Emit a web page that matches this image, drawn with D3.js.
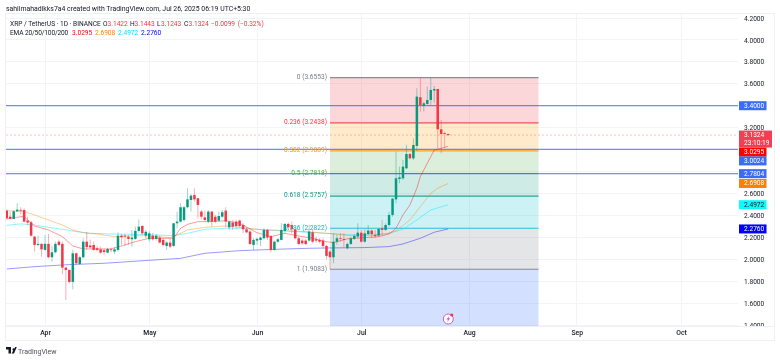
<!DOCTYPE html>
<html>
<head>
<meta charset="utf-8">
<script src="https://cdn.jsdelivr.net/npm/d3@7"></script>
<style>
    html, body { margin: 0; padding: 0; background: #fff; overflow: hidden; }
    svg { display: block; font-family: Roboto, sans-serif; filter: blur(0.3px); }
</style>
</head>
<body>
<div id="chart"></div>
<script>
const width = 780;
const height = 360;

// daily candles, first one is 21 Mar 2025, last one 26 Jul 2025
const firstDay = new Date(Date.UTC(2025, 2, 21));
const opens = [
    2.443, 2.388, 2.367, 2.437, 2.450, 2.449, 2.352, 2.337, 2.206, 2.130,
    2.140, 2.085, 2.140, 2.018, 2.063, 2.160, 2.140, 1.923, 1.902, 1.793,
    2.054, 1.957, 2.018, 2.160, 2.125, 2.130, 2.100, 2.090, 2.082, 2.060,
    2.090, 2.070, 2.085, 2.215, 2.215, 2.206, 2.182, 2.185, 2.258, 2.303,
    2.215, 2.182, 2.215, 2.185, 2.197, 2.176, 2.121, 2.152, 2.121, 2.328,
    2.343, 2.358, 2.474, 2.540, 2.586, 2.556, 2.434, 2.382, 2.343, 2.434,
    2.388, 2.352, 2.388, 2.443, 2.291, 2.334, 2.343, 2.352, 2.312, 2.273,
    2.252, 2.130, 2.170, 2.176, 2.191, 2.267, 2.212, 2.084, 2.160, 2.176,
    2.258, 2.322, 2.312, 2.273, 2.191, 2.170, 2.170, 2.170, 2.245, 2.182,
    2.176, 2.170, 2.121, 2.069, 2.018, 2.160, 2.194, 2.185, 2.100, 2.139,
    2.185, 2.206, 2.242, 2.160, 2.230, 2.261, 2.221, 2.215, 2.282, 2.267,
    2.312, 2.404, 2.546, 2.732, 2.738, 2.829, 2.960, 2.920, 3.033, 3.477,
    3.398, 3.416, 3.452, 3.538, 3.553, 3.185, 3.150, 3.1422
];
const highs = [
    2.455, 2.434, 2.449, 2.510, 2.474, 2.464, 2.388, 2.352, 2.212, 2.215,
    2.145, 2.220, 2.230, 2.120, 2.160, 2.180, 2.160, 1.932, 1.908, 2.085,
    2.060, 2.030, 2.190, 2.250, 2.180, 2.160, 2.120, 2.115, 2.096, 2.105,
    2.105, 2.110, 2.243, 2.230, 2.230, 2.220, 2.267, 2.297, 2.364, 2.312,
    2.267, 2.258, 2.240, 2.230, 2.215, 2.190, 2.165, 2.190, 2.328, 2.434,
    2.510, 2.486, 2.647, 2.595, 2.647, 2.556, 2.449, 2.443, 2.449, 2.443,
    2.404, 2.434, 2.449, 2.474, 2.352, 2.358, 2.358, 2.364, 2.328, 2.291,
    2.267, 2.191, 2.197, 2.206, 2.282, 2.276, 2.221, 2.170, 2.191, 2.328,
    2.328, 2.334, 2.343, 2.282, 2.206, 2.191, 2.182, 2.312, 2.267, 2.206,
    2.191, 2.191, 2.130, 2.084, 2.236, 2.221, 2.236, 2.236, 2.151, 2.206,
    2.230, 2.328, 2.267, 2.273, 2.312, 2.273, 2.267, 2.282, 2.358, 2.328,
    2.434, 2.556, 2.981, 2.844, 2.905, 3.042, 2.966, 3.103, 3.559, 3.655,
    3.437, 3.574, 3.655, 3.580, 3.553, 3.270, 3.164, 3.1443
];
const lows = [
    2.364, 2.364, 2.364, 2.434, 2.410, 2.337, 2.312, 2.206, 2.070, 2.115,
    2.024, 2.078, 2.008, 1.978, 2.054, 2.120, 1.862, 1.628, 1.780, 1.726,
    1.948, 1.948, 2.008, 2.085, 2.100, 2.078, 2.070, 2.048, 2.040, 2.054,
    2.063, 2.050, 2.070, 2.130, 2.120, 2.130, 2.115, 2.176, 2.242, 2.221,
    2.190, 2.160, 2.170, 2.170, 2.145, 2.115, 2.084, 2.100, 2.110, 2.282,
    2.334, 2.343, 2.464, 2.434, 2.525, 2.373, 2.364, 2.343, 2.328, 2.297,
    2.328, 2.343, 2.373, 2.291, 2.267, 2.267, 2.282, 2.291, 2.236, 2.236,
    2.130, 2.084, 2.130, 2.121, 2.182, 2.176, 2.063, 2.078, 2.151, 2.170,
    2.236, 2.267, 2.236, 2.182, 2.130, 2.130, 2.127, 2.160, 2.145, 2.151,
    2.145, 2.100, 1.999, 1.9083, 1.963, 2.130, 2.160, 2.109, 2.090, 2.130,
    2.176, 2.191, 2.151, 2.151, 2.221, 2.191, 2.191, 2.206, 2.221, 2.258,
    2.297, 2.388, 2.510, 2.692, 2.723, 2.823, 2.911, 2.905, 2.987, 3.346,
    3.346, 3.407, 3.407, 3.428, 3.012, 2.966, 3.012, 3.1243
];
const closes = [
    2.373, 2.370, 2.437, 2.452, 2.445, 2.343, 2.334, 2.215, 2.130, 2.140,
    2.090, 2.140, 2.018, 2.063, 2.140, 2.130, 1.923, 1.902, 1.793, 2.054,
    1.963, 2.018, 2.160, 2.110, 2.108, 2.085, 2.085, 2.060, 2.065, 2.093,
    2.085, 2.090, 2.215, 2.200, 2.206, 2.185, 2.197, 2.258, 2.297, 2.236,
    2.250, 2.236, 2.182, 2.215, 2.152, 2.130, 2.152, 2.115, 2.328, 2.343,
    2.474, 2.474, 2.546, 2.580, 2.546, 2.495, 2.388, 2.358, 2.434, 2.343,
    2.343, 2.394, 2.428, 2.343, 2.343, 2.297, 2.303, 2.303, 2.273, 2.245,
    2.139, 2.176, 2.185, 2.197, 2.267, 2.197, 2.084, 2.160, 2.182, 2.267,
    2.322, 2.291, 2.273, 2.191, 2.139, 2.145, 2.139, 2.252, 2.160, 2.170,
    2.160, 2.121, 2.030, 2.018, 2.160, 2.191, 2.188, 2.176, 2.139, 2.191,
    2.212, 2.242, 2.160, 2.236, 2.261, 2.230, 2.212, 2.276, 2.267, 2.312,
    2.404, 2.553, 2.738, 2.747, 2.844, 2.960, 2.920, 3.042, 3.483, 3.407,
    3.422, 3.452, 3.544, 3.553, 3.185, 3.142, 3.1422, 3.1324
];

const ema20Days = [0, 4, 5, 8, 12, 16, 19, 22, 26, 30, 33, 37, 41, 44, 48, 50, 52, 55, 59, 63, 67, 72, 76, 80, 84, 88, 92, 94, 98, 103, 107, 110, 112, 114, 116, 118, 119, 120, 122, 123, 125, 127];
const ema20Values = [2.367, 2.388, 2.388, 2.303, 2.267, 2.206, 2.121, 2.094, 2.094, 2.094, 2.121, 2.160, 2.191, 2.191, 2.191, 2.282, 2.318, 2.343, 2.343, 2.352, 2.328, 2.242, 2.206, 2.236, 2.212, 2.191, 2.160, 2.151, 2.186, 2.197, 2.206, 2.230, 2.282, 2.404, 2.495, 2.647, 2.753, 2.814, 2.936, 2.996, 3.012, 3.0295];
const ema50Days = [0, 5, 8, 12, 16, 19, 22, 26, 31, 37, 41, 47, 49, 52, 57, 63, 67, 72, 76, 81, 86, 92, 99, 105, 109, 112, 116, 119, 122, 124, 127];
const ema50Values = [2.443, 2.434, 2.404, 2.358, 2.312, 2.267, 2.242, 2.230, 2.206, 2.215, 2.212, 2.197, 2.221, 2.267, 2.291, 2.303, 2.291, 2.273, 2.267, 2.258, 2.252, 2.236, 2.215, 2.221, 2.230, 2.258, 2.358, 2.480, 2.601, 2.647, 2.6908];
const ema100Days = [0, 4, 8, 12, 16, 20, 24, 30, 37, 43, 48, 52, 57, 63, 68, 74, 80, 86, 92, 98, 105, 110, 114, 118, 122, 127];
const ema100Values = [2.309, 2.322, 2.312, 2.291, 2.273, 2.252, 2.236, 2.230, 2.227, 2.221, 2.215, 2.236, 2.273, 2.282, 2.282, 2.267, 2.258, 2.246, 2.236, 2.224, 2.221, 2.236, 2.273, 2.358, 2.449, 2.4972];
const ema200Days = [0, 8, 18, 28, 38, 50, 57, 67, 77, 87, 94, 103, 110, 114, 119, 123, 127];
const ema200Values = [1.911, 1.932, 1.951, 1.963, 1.984, 2.008, 2.054, 2.078, 2.090, 2.100, 2.103, 2.106, 2.115, 2.139, 2.191, 2.246, 2.2760];

// fib retracement, anchored 22 Jun, runs out to 21 Aug
const fibStartDay = 93;
const fibEndDay = 153;
const fibRatios = ['0', '0.236', '0.382', '0.5', '0.618', '0.786', '1'];
const fibPrices = [3.6553, 3.2438, 2.9889, 2.7818, 2.5757, 2.2822, 1.9083];
const fibColors = ['#787b86', '#f23645', '#ff9800', '#4caf50', '#089981', '#00bcd4', '#787b86'];
const fibFills = ['#f23645', '#ff9800', '#4caf50', '#089981', '#00bcd4', '#787b86', '#2962ff'];

const levelPrices = [3.4000, 3.0024, 2.7804];
const lastPrice = 3.1324;
const gridTicks = [4.2, 4.0, 3.8, 3.6, 3.4, 3.2, 3.0, 2.8, 2.6, 2.4, 2.2, 2.0, 1.8, 1.6, 1.4];
// 3.4, 3.0 and 2.8 sit under the price tags so they get no label
const priceTicks = [4.2, 4.0, 3.8, 3.6, 3.2, 2.6, 2.4, 2.2, 2.0, 1.8, 1.6, 1.4];
const monthTicks = [[2025, 3], [2025, 4], [2025, 5], [2025, 6], [2025, 7], [2025, 8], [2025, 9]];

const plotLeft = 6;
const plotRight = 738;
const plotTop = 14;
const plotBottom = 326;
const frameRight = 775;
const frameBottom = 341;
const up = '#089981';
const down = '#f23645';
const textColor = '#131722';

const dayDate = i => d3.utcDay.offset(firstDay, i);

const x = d3.scaleUtc()
    .domain([new Date(Date.UTC(2025, 3, 1)), new Date(Date.UTC(2025, 9, 1))])
    .range([45, 681]);
const y = d3.scaleLinear()
    .domain([1.4, 4.2])
    .range([325, 18]);

const svg = d3.select('#chart').append('svg')
    .attr('width', width)
    .attr('height', height);

const defs = svg.append('defs');
defs.append('clipPath').attr('id', 'plotClip')
    .append('rect')
    .attr('x', plotLeft)
    .attr('y', plotTop)
    .attr('width', plotRight - plotLeft)
    .attr('height', plotBottom - plotTop);
defs.append('clipPath').attr('id', 'axisClip')
    .append('rect')
    .attr('x', 0).attr('y', plotTop)
    .attr('width', frameRight - plotRight).attr('height', plotBottom - plotTop);

// outer frame
svg.append('rect')
    .attr('x', plotLeft - 0.5)
    .attr('y', plotTop - 0.5)
    .attr('width', frameRight - plotLeft)
    .attr('height', frameBottom - plotTop)
    .attr('fill', 'none')
    .attr('stroke', '#eef0f4');

// grid
const monthDates = monthTicks.map(([yr, m]) => new Date(Date.UTC(yr, m, 1)));
const grid = svg.append('g').attr('stroke', '#f3f4f7').attr('shape-rendering', 'crispEdges');
grid.selectAll('line.v').data(monthDates).enter().append('line')
    .attr('class', 'v')
    .attr('x1', d => x(d)).attr('x2', d => x(d))
    .attr('y1', plotTop).attr('y2', plotBottom);
grid.selectAll('line.h').data(gridTicks).enter().append('line')
    .attr('class', 'h')
    .attr('x1', plotLeft).attr('x2', plotRight)
    .attr('y1', d => y(d)).attr('y2', d => y(d));

const plot = svg.append('g').attr('clip-path', 'url(#plotClip)');

// fib bands, the last one runs off the bottom of the plot
const fibX0 = x(dayDate(fibStartDay));
const fibX1 = x(dayDate(fibEndDay));
const fibBottoms = fibPrices.slice(1).concat([y.domain()[0] - 0.2]);
plot.selectAll('rect.band').data(fibPrices).enter().append('rect')
    .attr('class', 'band')
    .attr('x', fibX0)
    .attr('width', fibX1 - fibX0)
    .attr('y', d => y(d))
    .attr('height', (d, i) => y(fibBottoms[i]) - y(d))
    .attr('fill', (d, i) => fibFills[i])
    .attr('fill-opacity', 0.2);
plot.selectAll('line.fib').data(fibPrices).enter().append('line')
    .attr('class', 'fib')
    .attr('x1', fibX0).attr('x2', fibX1)
    .attr('y1', d => y(d)).attr('y2', d => y(d))
    .attr('stroke', (d, i) => fibColors[i])
    .attr('stroke-width', 1.2)
    .attr('stroke-opacity', 0.85);

// horizontal levels and last price line
plot.selectAll('line.level').data(levelPrices).enter().append('line')
    .attr('class', 'level')
    .attr('x1', plotLeft).attr('x2', plotRight)
    .attr('y1', d => y(d)).attr('y2', d => y(d))
    .attr('stroke', '#2962ff')
    .attr('stroke-width', 1.3)
    .attr('stroke-opacity', 0.7);
plot.append('line')
    .attr('x1', plotLeft).attr('x2', plotRight)
    .attr('y1', y(lastPrice)).attr('y2', y(lastPrice))
    .attr('stroke', down)
    .attr('stroke-opacity', 0.3)
    .attr('stroke-dasharray', '2 2');

// EMAs
const emaLine = d3.line()
    .x(d => x(dayDate(d[0])))
    .y(d => y(d[1]));
const emaSeries = [
    { days: ema20Days, values: ema20Values, color: '#ff0000', alpha: 0.4 },
    { days: ema50Days, values: ema50Values, color: '#ff8000', alpha: 0.4 },
    { days: ema100Days, values: ema100Values, color: '#00e5ff', alpha: 0.45 },
    { days: ema200Days, values: ema200Values, color: '#0000ff', alpha: 0.4 }
];
emaSeries.slice().reverse().forEach(s => {
    plot.append('path')
        .attr('d', emaLine(d3.zip(s.days, s.values)))
        .attr('fill', 'none')
        .attr('stroke', s.color)
        .attr('stroke-opacity', s.alpha)
        .attr('stroke-width', 1);
});

// candles
const candles = opens.map((o, i) => ({ i, o, h: highs[i], l: lows[i], c: closes[i] }));
const candleG = plot.selectAll('g.candle').data(candles).enter().append('g')
    .attr('class', 'candle')
    .attr('fill', d => d.c >= d.o ? up : down)
    .attr('stroke', d => d.c >= d.o ? up : down);
candleG.append('line')
    .attr('x1', d => x(dayDate(d.i))).attr('x2', d => x(dayDate(d.i)))
    .attr('y1', d => y(d.h)).attr('y2', d => y(d.l))
    .attr('stroke-opacity', 0.4)
    .attr('stroke-width', 1);
candleG.append('rect')
    .attr('x', d => x(dayDate(d.i)) - 1.25)
    .attr('width', 2.5)
    .attr('y', d => y(Math.max(d.o, d.c)))
    .attr('height', d => Math.max(0.8, Math.abs(y(d.o) - y(d.c))))
    .attr('stroke', 'none');

// fib labels
svg.selectAll('text.fibLabel').data(fibPrices).enter().append('text')
    .attr('class', 'fibLabel')
    .attr('x', fibX0 - 3)
    .attr('y', d => y(d) - 0.5)
    .attr('text-anchor', 'end')
    .attr('dominant-baseline', 'middle')
    .attr('font-size', 6.6)
    .attr('fill', (d, i) => fibColors[i])
    .text((d, i) => `${fibRatios[i]} (${d.toFixed(4)})`);

// axes
const yAxis = svg.append('g')
    .attr('transform', `translate(${plotRight},0)`)
    .attr('clip-path', 'url(#axisClip)')
    .call(d3.axisRight(y).tickValues(priceTicks).tickSize(0).tickPadding(6).tickFormat(d3.format('.4f')));
yAxis.select('.domain').remove();
yAxis.selectAll('text')
    .attr('font-size', 6.6)
    .attr('font-family', 'Roboto, sans-serif')
    .attr('fill', textColor);

const xAxis = svg.append('g')
    .attr('transform', `translate(0,${plotBottom})`)
    .call(d3.axisBottom(x).tickValues(monthDates).tickSize(0).tickPadding(4.5).tickFormat(d3.utcFormat('%b')));
xAxis.select('.domain').remove();
xAxis.selectAll('text')
    .attr('font-size', 6.8)
    .attr('font-family', 'Roboto, sans-serif')
    .attr('font-weight', 500)
    .attr('fill', textColor);
svg.append('line')
    .attr('x1', plotLeft).attr('x2', frameRight)
    .attr('y1', plotBottom + 0.5).attr('y2', plotBottom + 0.5)
    .attr('stroke', '#eef0f4');

// price tags on the axis; the ones that collide get pushed down like TradingView does
const tagData = [
    { price: 3.4000, bg: '#3a6cf5', fg: '#fff', shift: 0 },
    { price: 3.0295, bg: '#ff0000', fg: '#fff', shift: 5.7 },
    { price: 3.0024, bg: '#3a6cf5', fg: '#fff', shift: 11.6 },
    { price: 2.7804, bg: '#3a6cf5', fg: '#fff', shift: 0 },
    { price: 2.6908, bg: '#ff8000', fg: '#fff', shift: 0 },
    { price: 2.4972, bg: '#00ffff', fg: textColor, shift: 0 },
    { price: 2.2760, bg: '#0000ff', fg: '#fff', shift: 0 }
];
const tags = svg.selectAll('g.tag').data(tagData).enter().append('g')
    .attr('class', 'tag')
    .attr('transform', d => `translate(${plotRight + 1},${y(d.price) + d.shift})`);
tags.append('rect')
    .attr('x', 0).attr('y', -4.5)
    .attr('width', 27.5).attr('height', 9)
    .attr('fill', d => d.bg);
tags.append('text')
    .attr('x', 5)
    .attr('y', 0.2)
    .attr('dominant-baseline', 'middle')
    .attr('font-size', 6.6)
    .attr('fill', d => d.fg)
    .text(d => d.price.toFixed(4));

const lastTag = svg.append('g')
    .attr('transform', `translate(${plotRight + 1},${y(lastPrice)})`);
lastTag.append('rect')
    .attr('x', 0).attr('y', -4.5)
    .attr('width', 33).attr('height', 17)
    .attr('fill', '#f23f54');
lastTag.append('text')
    .attr('x', 5).attr('y', 0.2)
    .attr('dominant-baseline', 'middle')
    .attr('font-size', 6.6)
    .attr('fill', '#fff')
    .text(lastPrice.toFixed(4));
lastTag.append('text')
    .attr('x', 5).attr('y', 8)
    .attr('dominant-baseline', 'middle')
    .attr('font-size', 6.6)
    .attr('fill', '#fff')
    .text('23:10:19');

// header and legend
svg.append('text')
    .attr('x', 6).attr('y', 10.5)
    .attr('font-size', 6.9)
    .attr('fill', textColor)
    .text('sahilmahadikks7a4 created with TradingView.com, Jul 26, 2025 06:19 UTC+5:30');

const legendBits = [
    { x: 10, y: 25.5, t: 'XRP / TetherUS · 1D · BINANCE', c: textColor },
    { x: 103, y: 25.5, t: 'O', c: textColor },
    { x: 107.5, y: 25.5, t: '3.1422', c: down },
    { x: 130, y: 25.5, t: 'H', c: textColor },
    { x: 134.5, y: 25.5, t: '3.1443', c: down },
    { x: 157, y: 25.5, t: 'L', c: textColor },
    { x: 161, y: 25.5, t: '3.1243', c: down },
    { x: 184, y: 25.5, t: 'C', c: textColor },
    { x: 188.5, y: 25.5, t: '3.1324', c: down },
    { x: 211, y: 25.5, t: '−0.0099 (−0.32%)', c: down, ws: 1 },
    { x: 10, y: 34.5, t: 'EMA 20/50/100/200', c: textColor, ls: -0.15 },
    { x: 72, y: 34.5, t: '3.0295', c: '#ff0000' },
    { x: 95, y: 34.5, t: '2.6908', c: '#ff8000' },
    { x: 118, y: 34.5, t: '2.4972', c: '#00e5ff' },
    { x: 141, y: 34.5, t: '2.2760', c: '#0000ff' }
];
svg.selectAll('text.legend').data(legendBits).enter().append('text')
    .attr('class', 'legend')
    .attr('x', d => d.x).attr('y', d => d.y)
    .attr('font-size', 6.6)
    .attr('fill', d => d.c)
    .style('word-spacing', d => `${d.ws || 0}px`)
    .style('letter-spacing', d => `${d.ls || 0}px`)
    .text(d => d.t);

// news marker under the last candles
const flash = svg.append('g').attr('transform', 'translate(448.3,319)');
flash.append('circle')
    .attr('r', 5)
    .attr('fill', '#fff')
    .attr('stroke', '#c95fd0')
    .attr('stroke-width', 1);
flash.append('path')
    .attr('d', 'M1,-3 L-2,0.6 L-0.3,0.6 L-1,3 L2,-0.8 L0.3,-0.8 Z')
    .attr('fill', '#c95fd0');
flash.append('circle')
    .attr('cx', 3.5).attr('cy', -4)
    .attr('r', 1.6)
    .attr('fill', '#f23645');

// TradingView logo
svg.append('path')
    .attr('transform', 'translate(6,347)')
    .attr('d', 'M0,0 H5 V6.5 H2.5 V2.4 H0 Z M7.6,1.2 a1.2,1.2 0 1 1 -0.01,0 Z M9.2,0 H10.8 L8,6.5 H5.6 Z')
    .attr('fill', textColor);
svg.append('text')
    .attr('x', 18).attr('y', 353.5)
    .attr('font-size', 7)
    .attr('fill', '#50535e')
    .text('TradingView');
</script>
</body>
</html>
